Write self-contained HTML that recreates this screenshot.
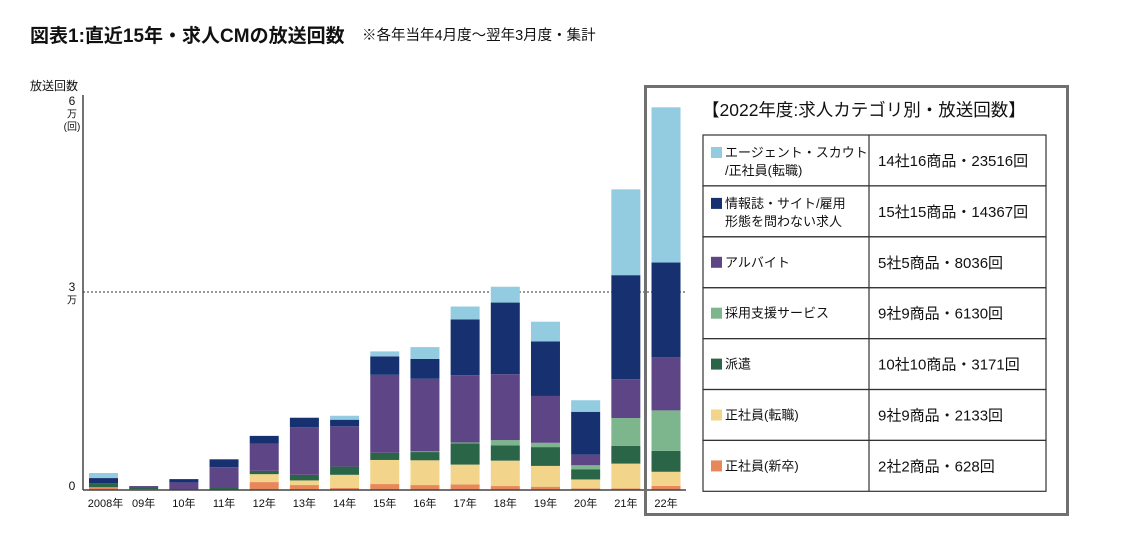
<!DOCTYPE html>
<html><head><meta charset="utf-8">
<style>
body{margin:0;background:#fff;font-family:"Liberation Sans","Noto Sans CJK JP",sans-serif;}
#wrap{position:relative;width:1140px;height:545px;overflow:hidden;}
</style></head>
<body>
<div id="wrap">
<svg id="svg" width="1140" height="545" xmlns="http://www.w3.org/2000/svg" style="font-family:'Liberation Sans','Noto Sans CJK JP',sans-serif">
  <text x="30" y="42" font-size="19" font-weight="bold" fill="#111">図表1:直近15年・求人CMの放送回数</text>
  <text x="362" y="40" font-size="14.5" fill="#111">※各年当年4月度～翌年3月度・集計</text>
  <text x="30" y="90" font-size="12" fill="#111">放送回数</text>
  <g id="yticks" fill="#111" text-anchor="middle"></g>
  <g id="bars"></g>
  <g id="xlabels" font-size="11" fill="#111" text-anchor="middle"></g>
  <line x1="83" y1="95" x2="83" y2="490" stroke="#444" stroke-width="1.5"/>
  <line x1="83" y1="490" x2="686" y2="490" stroke="#444" stroke-width="1.5"/>
  <rect x="645.5" y="86.5" width="422" height="428" fill="none" stroke="#707070" stroke-width="3"/>
  <text x="702" y="116" font-size="17.5" fill="#111">【2022年度:求人カテゴリ別・放送回数】</text>
  <g id="table"></g>
</svg>
</div>
<script>
const years=["2008年","09年","10年","11年","12年","13年","14年","15年","16年","17年","18年","19年","20年","21年","22年"];
const shinsotsu=[450,150,50,0,1200,750,300,900,750,850,600,500,250,250,628];
const tenshoku=[0,0,0,0,1200,700,2000,3650,3750,3000,3850,3150,1350,3750,2133];
const haken=[600,300,100,450,500,850,1250,1100,1250,3200,2300,2850,1550,2700,3171];
const saiyou=[0,0,0,0,0,0,0,0,100,150,800,650,600,4200,6130];
const arubaito=[0,150,1000,3000,4100,7200,6100,11800,11000,10200,10000,7100,1600,5900,8036];
const jouhoushi=[760,0,500,1200,1200,1450,1000,2800,3000,8450,10850,8250,6500,15750,14367];
const agent=[760,0,0,0,0,0,600,750,1800,1950,2400,3000,1750,13000,23516];
const yTickLabels=[["0"],["3","万"],["6","万","(回)"]];
const yTickValues=[0,30000,60000];
const tableLabels=[["エージェント・スカウト","/正社員(転職)"],["情報誌・サイト/雇用","形態を問わない求人"],["アルバイト"],["採用支援サービス"],["派遣"],["正社員(転職)"],["正社員(新卒)"]];
const tableValues=["14社16商品・23516回","15社15商品・14367回","5社5商品・8036回","9社9商品・6130回","10社10商品・3171回","9社9商品・2133回","2社2商品・628回"];

const NS="http://www.w3.org/2000/svg";
const series=[shinsotsu,tenshoku,haken,saiyou,arubaito,jouhoushi,agent];
const colors=["#e8875a","#f2d58a","#2b6548","#7db58d","#5d4586","#163070","#93cbe0"];
const sNames=["shinsotsu","tenshoku","haken","saiyou","arubaito","jouhoushi","agent"];
const y0=490, pxPer=198/30000;
function yScale(v){return y0-v*pxPer;}
function xScale(i){return 103.5+i*40.18;}
const bw=29;
const svg=document.getElementById('svg');
function mk(tag,attrs,parent){const e=document.createElementNS(NS,tag);for(const k in attrs)e.setAttribute(k,attrs[k]);parent.appendChild(e);return e;}

const yt=document.getElementById('yticks');
yTickValues.forEach((v,i)=>{
  const y=yScale(v);
  const base = i===0 ? y : (i===1 ? y-1 : y+11);
  yTickLabels[i].forEach((s,j)=>{
    const t=mk('text',{x:72,y:base+j*12.5,'font-size':j===0?12:10},yt);
    
    
    t.textContent=s;
  });
  if(v===30000){
    const l=mk('line',{x1:83,y1:y,x2:686,y2:y,stroke:'#333','stroke-dasharray':'2,2','stroke-width':1},document.getElementById('bars'));
    
    
  }
});

const bars=document.getElementById('bars');
const xl=document.getElementById('xlabels');
years.forEach((yr,i)=>{
  let cum=0;
  series.forEach((s,k)=>{
    const v=s[i]; if(v<=0) return;
    const top=yScale(cum+v), bot=yScale(cum);
    const r=mk('rect',{x:xScale(i)-bw/2,y:top,width:bw,height:bot-top,fill:colors[k]},bars);
    
    
    cum+=v;
  });
  const t=mk('text',{x:xScale(i)+(i===0?2:0),y:507},xl);
  
  
  t.textContent=yr;
});

const tb=document.getElementById('table');
const tx=703, tr=1046, tdiv=869, ty=135, rh=50.9;
tableLabels.forEach((lab,i)=>{
  const y=ty+i*rh, k=6-i;
  const row=mk('rect',{x:tx,y:y,width:tr-tx,height:rh,fill:'none',stroke:'#333','stroke-width':1.2},tb);
  
  
  const sw=mk('rect',{x:711,y:y+(lab.length>1?12:20),width:11,height:11,fill:colors[k]},tb);
  
  
  lab.forEach((s,j)=>{
    const t=mk('text',{x:725,y:lab.length>1?y+22+j*18:y+30,'font-size':13,fill:'#111'},tb);
    
    
    t.textContent=s;
  });
  const v=mk('text',{x:878,y:y+31,'font-size':15,fill:'#111'},tb);
  
  
  v.textContent=tableValues[i];
});
const dv=mk('line',{x1:tdiv,y1:ty,x2:tdiv,y2:ty+7*rh,stroke:'#333','stroke-width':1.2},tb);


</script>
</body></html>
